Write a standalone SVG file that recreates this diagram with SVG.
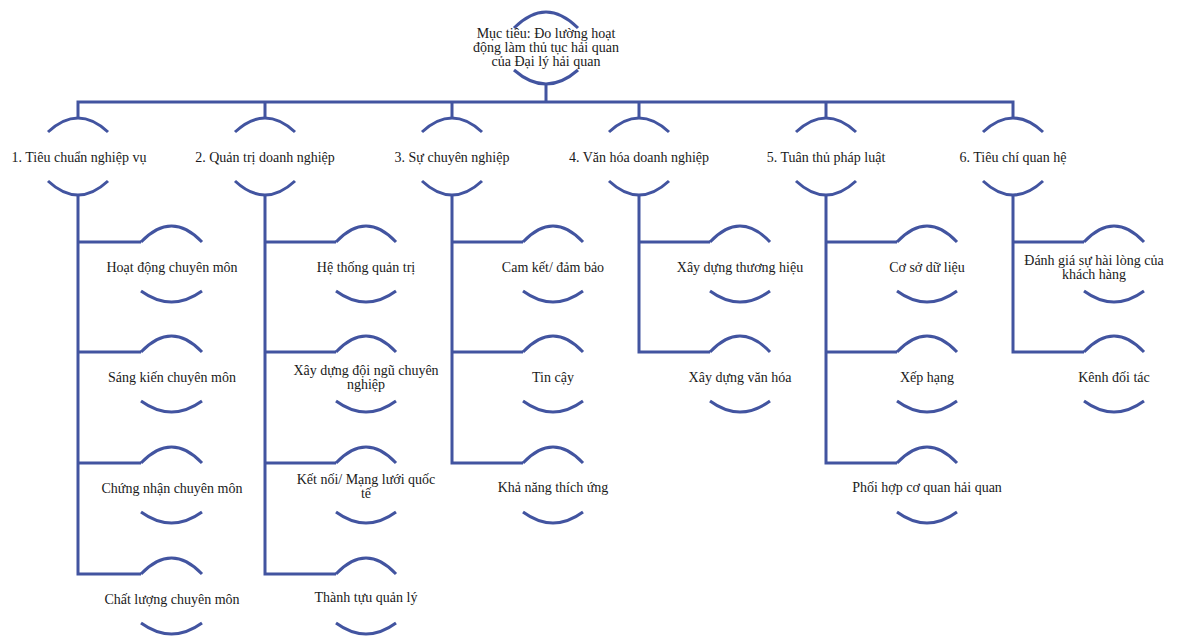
<svg xmlns="http://www.w3.org/2000/svg" width="1192" height="637" viewBox="0 0 1192 637">
<style>
.a{fill:none;stroke:#4254A0;stroke-width:3;stroke-linecap:butt}
.c{fill:none;stroke:#4254A0;stroke-width:3;stroke-linejoin:miter}
text{font-family:"Liberation Serif","Times New Roman",serif;font-size:14px;fill:#1a1a1a;text-anchor:middle}
</style>
<rect width="1192" height="637" fill="#fff"/>
<g id="connectors">
<path class="c" d="M546,84V102M78,118V102H1013V118M265,102V118M452,102V118M639,102V118M826,102V118"/>
<path class="c" d="M78,195V574H141M78,242H141M78,352H141M78,463H141"/>
<path class="c" d="M265,195V574H336M265,242H336M265,352H336M265,463H336"/>
<path class="c" d="M452,195V463H523M452,242H523M452,352H523"/>
<path class="c" d="M639,195V352H710M639,242H710"/>
<path class="c" d="M826,195V463H897M826,242H897M826,352H897"/>
<path class="c" d="M1013,195V352H1084M1013,242H1084"/>
</g>
<g id="root">
<path class="a" d="M514,28Q546,-4 578,28M514,70Q546,98 578,70"/>
<text x="546" y="38">Mục tiêu: Đo lường hoạt</text>
<text x="546" y="52">động làm thủ tục hải quan</text>
<text x="546" y="66">của Đại lý hải quan</text>
</g>
<g id="n1"><path class="a" d="M48,132Q78,104 108,132M48,181Q78,209 108,181"/><text x="79" y="162">1. Tiêu chuẩn nghiệp vụ</text></g>
<g id="n2"><path class="a" d="M235,132Q265,104 295,132M235,181Q265,209 295,181"/><text x="265" y="162">2. Quản trị doanh nghiệp</text></g>
<g id="n3"><path class="a" d="M422,132Q452,104 482,132M422,181Q452,209 482,181"/><text x="452" y="162">3. Sự chuyên nghiệp</text></g>
<g id="n4"><path class="a" d="M609,132Q639,104 669,132M609,181Q639,209 669,181"/><text x="639" y="162">4. Văn hóa doanh nghiệp</text></g>
<g id="n5"><path class="a" d="M796,132Q826,104 856,132M796,181Q826,209 856,181"/><text x="826" y="162">5. Tuân thủ pháp luật</text></g>
<g id="n6"><path class="a" d="M983,132Q1013,104 1043,132M983,181Q1013,209 1043,181"/><text x="1013" y="162">6. Tiêu chí quan hệ</text></g>

<g id="n1-1"><path class="a" d="M141,242Q171.5,210 202,242M141,291Q171.5,313 202,291"/><text x="172" y="272">Hoạt động chuyên môn</text></g>
<g id="n1-2"><path class="a" d="M141,352Q171.5,320 202,352M141,401Q171.5,423 202,401"/><text x="172" y="382">Sáng kiến chuyên môn</text></g>
<g id="n1-3"><path class="a" d="M141,463Q171.5,431 202,463M141,512Q171.5,534 202,512"/><text x="172" y="493">Chứng nhận chuyên môn</text></g>
<g id="n1-4"><path class="a" d="M141,574Q171.5,542 202,574M141,623Q171.5,645 202,623"/><text x="172" y="604">Chất lượng chuyên môn</text></g>

<g id="n2-1"><path class="a" d="M336,242Q366,210 396,242M336,291Q366,313 396,291"/><text x="366" y="272">Hệ thống quản trị</text></g>
<g id="n2-2"><path class="a" d="M336,352Q366,320 396,352M336,401Q366,423 396,401"/><text x="366" y="375">Xây dựng đội ngũ chuyên</text><text x="366" y="389">nghiệp</text></g>
<g id="n2-3"><path class="a" d="M336,463Q366,431 396,463M336,512Q366,534 396,512"/><text x="366" y="484">Kết nối/ Mạng lưới quốc</text><text x="366" y="498">tế</text></g>
<g id="n2-4"><path class="a" d="M336,574Q366,542 396,574M336,623Q366,645 396,623"/><text x="366" y="602">Thành tựu quản lý</text></g>

<g id="n3-1"><path class="a" d="M523,242Q553,210 583,242M523,291Q553,313 583,291"/><text x="553" y="272">Cam kết/ đảm bảo</text></g>
<g id="n3-2"><path class="a" d="M523,352Q553,320 583,352M523,401Q553,423 583,401"/><text x="553" y="382">Tin cậy</text></g>
<g id="n3-3"><path class="a" d="M523,463Q553,431 583,463M523,512Q553,534 583,512"/><text x="553" y="492">Khả năng thích ứng</text></g>

<g id="n4-1"><path class="a" d="M710,242Q740,210 770,242M710,291Q740,313 770,291"/><text x="740" y="272">Xây dựng thương hiệu</text></g>
<g id="n4-2"><path class="a" d="M710,352Q740,320 770,352M710,401Q740,423 770,401"/><text x="740" y="382">Xây dựng văn hóa</text></g>

<g id="n5-1"><path class="a" d="M897,242Q927,210 957,242M897,291Q927,313 957,291"/><text x="927" y="272">Cơ sở dữ liệu</text></g>
<g id="n5-2"><path class="a" d="M897,352Q927,320 957,352M897,401Q927,423 957,401"/><text x="927" y="382">Xếp hạng</text></g>
<g id="n5-3"><path class="a" d="M897,463Q927,431 957,463M897,512Q927,534 957,512"/><text x="927" y="492">Phối hợp cơ quan hải quan</text></g>

<g id="n6-1"><path class="a" d="M1084,242Q1114,210 1144,242M1084,291Q1114,313 1144,291"/><text x="1094" y="265">Đánh giá sự hài lòng của</text><text x="1094" y="279">khách hàng</text></g>
<g id="n6-2"><path class="a" d="M1084,352Q1114,320 1144,352M1084,401Q1114,423 1144,401"/><text x="1114" y="382">Kênh đối tác</text></g>
</svg>
